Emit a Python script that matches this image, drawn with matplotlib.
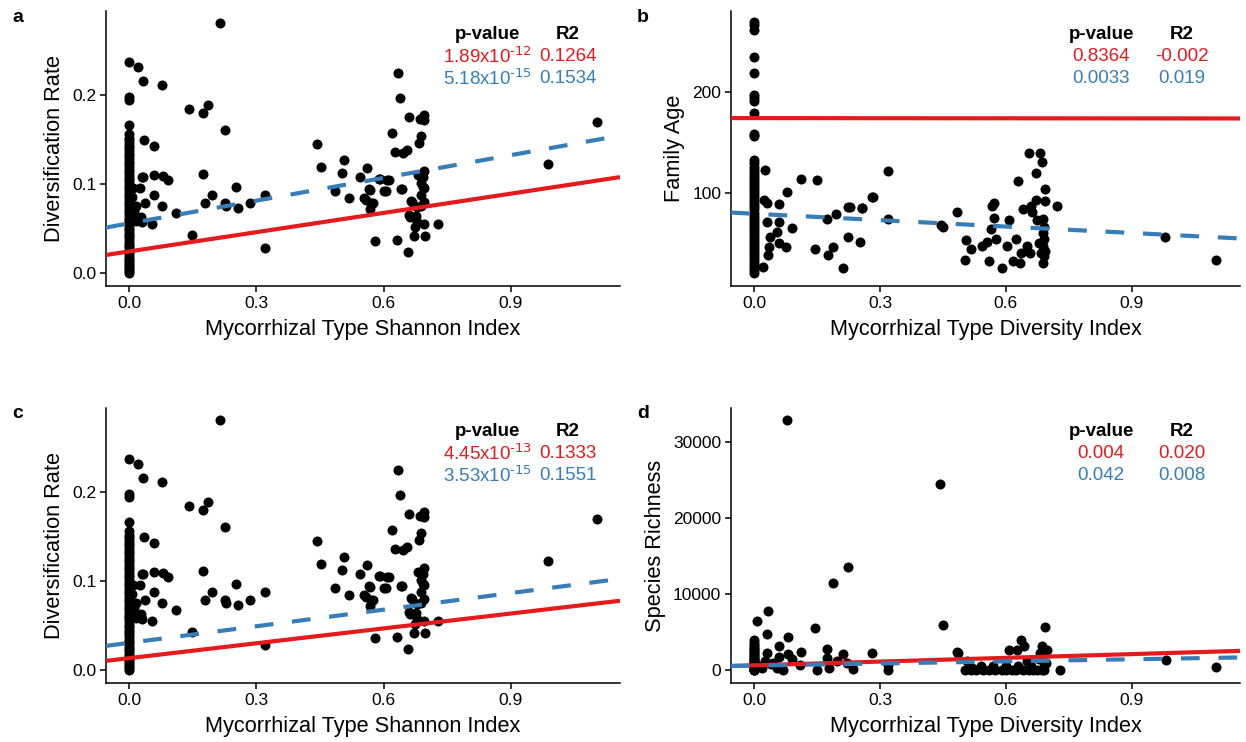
import numpy as np
import matplotlib
matplotlib.use('Agg')
import matplotlib.pyplot as plt

plt.rcParams['font.family'] = ['Liberation Sans', 'DejaVu Sans']
plt.rcParams['mathtext.default'] = 'regular'

RED = '#E41A1C'
BLUE = '#377EB8'

# ---- diversification rate vs mycorrhizal shannon index (panels a, c)
rate_col = [0.000, 0.002, 0.004, 0.007, 0.009, 0.011, 0.013, 0.016, 0.018, 0.021,
            0.023, 0.026, 0.029, 0.031, 0.034, 0.037, 0.040, 0.043, 0.045, 0.048,
            0.051, 0.054, 0.057, 0.060, 0.062, 0.065, 0.068, 0.071, 0.074, 0.077,
            0.080, 0.083, 0.086, 0.089, 0.092, 0.095, 0.098, 0.101, 0.104, 0.107,
            0.110, 0.113, 0.116, 0.119, 0.122, 0.125, 0.128, 0.131, 0.134, 0.137,
            0.140, 0.143, 0.146, 0.149, 0.152, 0.156, 0.166, 0.194, 0.197, 0.237]
rate_x = [0.006, 0.010, 0.012, 0.008, 0.015, 0.005,
          0.213, 0.020, 0.032, 0.076, 0.142, 0.185, 0.175, 0.225, 0.035, 0.058,
          0.029, 0.033, 0.059, 0.080, 0.091, 0.174, 0.026, 0.059, 0.251, 0.320,
          0.196, 0.036, 0.016, 0.077, 0.178, 0.225, 0.229, 0.256, 0.284, 0.028,
          0.031, 0.054, 0.111, 0.148, 0.320,
          0.444, 0.452, 0.507, 0.503, 0.560, 0.545, 0.485, 0.519, 0.568, 0.592,
          0.612, 0.605, 0.559, 0.575, 0.568, 0.643, 0.635, 0.639, 0.660, 0.685,
          0.696, 0.696, 0.620, 0.688, 0.683, 0.626, 0.647, 0.655,
          0.682, 0.696, 0.692, 0.688, 0.696, 0.688, 0.696, 0.688,
          0.667, 0.663, 0.677, 0.675, 0.695, 0.672, 0.697, 0.728, 0.579, 0.632,
          0.658, 0.590, 0.609, 0.566, 0.601, 0.641, 0.554, 0.570, 0.664, 0.660,
          0.680, 0.694, 0.678, 0.987, 1.103]
rate_y = [0.085, 0.070, 0.062, 0.095, 0.058, 0.075,
          0.280, 0.231, 0.216, 0.211, 0.184, 0.188, 0.179, 0.161, 0.149, 0.142,
          0.108, 0.108, 0.110, 0.109, 0.104, 0.111, 0.095, 0.088, 0.097, 0.087,
          0.087, 0.079, 0.075, 0.075, 0.078, 0.079, 0.075, 0.073, 0.079, 0.063,
          0.057, 0.055, 0.067, 0.043, 0.028,
          0.145, 0.119, 0.127, 0.112, 0.118, 0.108, 0.092, 0.084, 0.093, 0.105,
          0.104, 0.092, 0.082, 0.079, 0.072, 0.094, 0.224, 0.196, 0.175, 0.173,
          0.177, 0.172, 0.157, 0.154, 0.146, 0.136, 0.135, 0.138,
          0.110, 0.114, 0.108, 0.101, 0.095, 0.088, 0.080, 0.075,
          0.080, 0.063, 0.064, 0.052, 0.055, 0.042, 0.042, 0.055, 0.036, 0.037,
          0.023, 0.106, 0.104, 0.094, 0.092, 0.094, 0.084, 0.078, 0.081, 0.065,
          0.057, 0.097, 0.074, 0.122, 0.169]

# ---- family age (panel b)
age_col = [21, 24, 27, 30, 33, 36, 39, 42, 45, 48, 51, 54, 57, 60, 63, 66, 69, 72,
           75, 78, 81, 84, 87, 90, 93, 96, 99, 102, 105, 108, 111, 114, 117, 120,
           123, 126, 130, 133, 156, 158, 179, 191, 194, 197, 218, 234, 261, 266, 268]
age_x = [0.026, 0.111, 0.149, 0.079, 0.024, 0.031, 0.060, 0.031, 0.060, 0.090,
         0.055, 0.039, 0.059, 0.077, 0.035, 0.033, 0.022, 0.144, 0.174, 0.196,
         0.187, 0.175, 0.213, 0.223, 0.228, 0.256, 0.283, 0.225, 0.252, 0.318,
         0.318, 0.282, 0.257, 0.446, 0.450, 0.484, 0.506, 0.518, 0.502, 0.543,
         0.555, 0.559, 0.567, 0.571, 0.571, 0.565, 0.576, 0.590, 0.602, 0.608,
         0.617, 0.624, 0.629, 0.634, 0.641, 0.635, 0.651, 0.655, 0.657, 0.660,
         0.671, 0.672, 0.663, 0.682, 0.685, 0.694, 0.694, 0.722, 0.675, 0.689,
         0.690, 0.689, 0.690, 0.689, 0.694, 0.690, 0.689, 0.680, 0.684, 0.980,
         1.100]
age_y = [123, 114, 113, 101, 93, 90, 89, 72, 72, 66,
         62, 57, 51, 47, 47, 39, 27, 45, 75, 80,
         47, 39, 26, 86, 86, 85, 96, 57, 52, 122,
         75, 96, 85, 69, 67, 82, 54, 45, 34, 48,
         52, 33, 87, 90, 76, 65, 55, 26, 48, 74,
         33, 55, 112, 31, 84, 41, 48, 140, 41, 87,
         93, 120, 82, 140, 131, 104, 92, 87, 74, 75,
         67, 61, 55, 48, 43, 38, 31, 51, 41, 57,
         34]

# ---- species richness (panel d)
rich_col = [0, 0, 50, 100, 150, 200, 300, 400, 500, 600, 700, 800, 900, 1000,
            1150, 1300, 1450, 1600, 1800, 2000, 2200, 2400, 2600, 2800, 3000,
            3300, 3600, 3950]
rich_x = [0.079, 0.443, 0.225, 0.187, 0.034, 0.008, 0.144, 0.451, 0.030, 0.082,
          0.060, 0.112, 0.174, 0.212, 0.282, 0.484, 0.030, 0.080, 0.060, 0.090,
          0.174, 0.197, 0.222, 0.149, 0.178, 0.235, 0.318, 0.318, 0.502, 0.518,
          0.508, 0.010, 0.020, 0.040, 0.055, 0.070, 0.110, 0.025, 0.045,
          0.694, 0.635, 0.643, 0.608, 0.627, 0.686, 0.697, 0.681, 0.486, 0.982,
          1.100, 0.728, 0.530, 0.545, 0.560, 0.575, 0.590, 0.600, 0.615, 0.625,
          0.640, 0.655, 0.665, 0.675, 0.685, 0.692, 0.540, 0.570, 0.600, 0.630,
          0.660, 0.690, 0.520, 0.650, 0.680, 0.695]
rich_y = [32800, 24400, 13600, 11400, 7800, 6450, 5500, 5850, 4700, 4350,
          3100, 2400, 2750, 2100, 2200, 2300, 2200, 2100, 1700, 1500,
          1550, 1200, 900, 0, 300, 100, 0, 700, 0, 0,
          1150, 500, 300, 800, 200, 0, 600, 1200, 900,
          5650, 3950, 3150, 2650, 2600, 3150, 2650, 2200, 2200, 1250,
          350, 0, 0, 0, 0, 0, 0, 0, 0, 0,
          0, 0, 0, 0, 0, 0, 500, 500, 500, 500,
          500, 500, 300, 1200, 1500, 900]

# regression lines: (intercept, slope)
fit_a_red, fit_a_blue = (0.0242, 0.072), (0.0557, 0.085)
fit_b_red, fit_b_blue = (173.9, -0.3), (79.8, -21.0)
fit_c_red, fit_c_blue = (0.0133, 0.0556), (0.0305, 0.062)
fit_d_red, fit_d_blue = (610, 1640), (575, 925)

stats_a = [(r'1.89x10$^{\text{-12}}$', '0.1264'), (r'5.18x10$^{\text{-15}}$', '0.1534')]
stats_b = [('0.8364', '-0.002'), ('0.0033', '0.019')]
stats_c = [(r'4.45x10$^{\text{-13}}$', '0.1333'), (r'3.53x10$^{\text{-15}}$', '0.1551')]
stats_d = [('0.004', '0.020'), ('0.042', '0.008')]

W, H = 1246, 742
fig = plt.figure(figsize=(W / 100, H / 100), dpi=100)


def px_axes(l, t, r, b):
    return fig.add_axes([l / W, 1 - b / H, (r - l) / W, (b - t) / H])


def panel(ax, xs, ys, fits, stats, xlab, ylab, ylim, yticks, ytl, tx):
    xlim = (-0.055, 1.158)
    ax.scatter(xs, ys, s=52, color='black', linewidths=0, zorder=2)
    xx = np.array(xlim)
    (ri, rs), (bi, bs) = fits
    ax.plot(xx, ri + rs * xx, color=RED, lw=3, solid_capstyle='butt', zorder=3)
    ax.plot(xx, bi + bs * xx, color=BLUE, lw=3, dashes=(4.5, 4.5), zorder=3)
    ax.set_xlim(xlim)
    ax.set_ylim(ylim)
    ax.set_xticks([0.0, 0.3, 0.6, 0.9])
    ax.set_xticklabels(['0.0', '0.3', '0.6', '0.9'])
    ax.set_yticks(yticks)
    ax.set_yticklabels(ytl)
    ax.spines['top'].set_visible(False)
    ax.spines['right'].set_visible(False)
    for s in ('left', 'bottom'):
        ax.spines[s].set_linewidth(1.1)
    ax.tick_params(length=4, width=1.1, labelsize=12.5, colors='black', pad=3)
    ax.set_xlabel(xlab, fontsize=15.7, labelpad=6)
    ax.set_ylabel(ylab, fontsize=15.7, labelpad=5)
    px, rx = tx
    ax.text(px, 0.915, 'p-value', transform=ax.transAxes, ha='center', va='center',
            fontsize=13.5, fontweight='bold')
    ax.text(rx, 0.915, 'R2', transform=ax.transAxes, ha='center', va='center',
            fontsize=13.5, fontweight='bold')
    for (p, r2), col, yy in zip(stats, (RED, BLUE), (0.835, 0.755)):
        ax.text(px, yy, p, transform=ax.transAxes, ha='center', va='center',
                fontsize=13.5, color=col)
        ax.text(rx, yy, r2, transform=ax.transAxes, ha='center', va='center',
                fontsize=13.5, color=col)


rate_all_x = [0.0] * len(rate_col) + rate_x
rate_all_y = rate_col + rate_y
age_all_x = [0.0] * len(age_col) + age_x
age_all_y = age_col + age_y
rich_all_x = [0.0] * len(rich_col) + rich_x
rich_all_y = rich_col + rich_y

ax_a = px_axes(106, 11, 620, 286)
panel(ax_a, rate_all_x, rate_all_y, (fit_a_red, fit_a_blue), stats_a,
      'Mycorrhizal Type Shannon Index', 'Diversification Rate',
      (-0.0146, 0.294), [0.0, 0.1, 0.2], ['0.0', '0.1', '0.2'], (0.743, 0.899))

ax_b = px_axes(731, 11, 1240, 286)
panel(ax_b, age_all_x, age_all_y, (fit_b_red, fit_b_blue), stats_b,
      'Mycorrhizal Type Diversity Index', 'Family Age',
      (8.7, 279.3), [100, 200], ['100', '200'], (0.727, 0.886))

ax_c = px_axes(106, 408, 620, 683)
panel(ax_c, rate_all_x, rate_all_y, (fit_c_red, fit_c_blue), stats_c,
      'Mycorrhizal Type Shannon Index', 'Diversification Rate',
      (-0.0146, 0.294), [0.0, 0.1, 0.2], ['0.0', '0.1', '0.2'], (0.743, 0.899))

ax_d = px_axes(731, 408, 1240, 683)
panel(ax_d, rich_all_x, rich_all_y, (fit_d_red, fit_d_blue), stats_d,
      'Mycorrhizal Type Diversity Index', 'Species Richness',
      (-1713, 34440), [0, 10000, 20000, 30000], ['0', '10000', '20000', '30000'],
      (0.727, 0.886))

for lab, x, y in (('a', 18, 18), ('b', 643, 18), ('c', 18, 414), ('d', 643, 414)):
    fig.text(x / W, 1 - y / H, lab, fontsize=14, fontweight='bold', ha='center', va='center')

fig.savefig('out.png', dpi=100)
